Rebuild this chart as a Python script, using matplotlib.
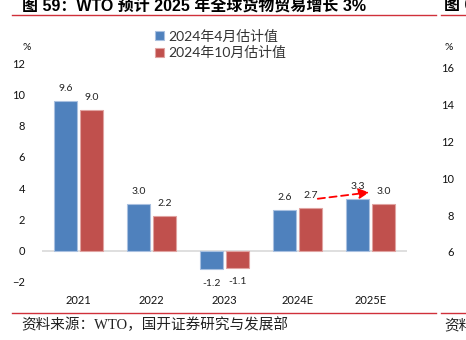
import matplotlib
matplotlib.use("Agg")
import matplotlib.pyplot as plt
import numpy as np

plt.rcParams['font.family'] = ['Lato', 'Noto Sans CJK SC', 'DejaVu Sans']

# -----------------------
# Data
# -----------------------
years = ["2021", "2022", "2023", "2024E", "2025E"]
apr_est = [9.6, 3.0, -1.2, 2.6, 3.3]
oct_est = [9.0, 2.2, -1.1, 2.7, 3.0]
series_names = ["2024年4月估计值", "2024年10月估计值"]
y_ticks = [-2, 0, 2, 4, 6, 8, 10, 12]
right_ticks = [6, 8, 10, 12, 14, 16]

BLUE = "#4F81BD"
RED = "#C0504D"
W, H = 466, 340

fig = plt.figure(figsize=(W / 100, H / 100), dpi=100)
fig.patch.set_facecolor("white")

def fx(px):
    return px / W

def fy(py):
    return 1 - py / H

# -----------------------
# Main bar chart
# -----------------------
ax = fig.add_axes([fx(42), fy(282), fx(407 - 42), (282 - 63) / H])
x = np.arange(len(years))
bw = 0.31
off = 0.178
b1 = ax.bar(x - off, apr_est, bw, color=BLUE, edgecolor="#A9C0E0", linewidth=0.8,
            label=series_names[0])
b2 = ax.bar(x + off, oct_est, bw, color=RED, edgecolor="#E0A3A1", linewidth=0.8,
            label=series_names[1])

for bars, vals in ((b1, apr_est), (b2, oct_est)):
    for rect, v in zip(bars, vals):
        cx = rect.get_x() + rect.get_width() / 2
        dy = 9 if v >= 0 else -10
        ax.annotate(f"{v:.1f}", (cx, v), xytext=(0, dy), textcoords="offset points",
                    ha="center", va="center", fontsize=7.5, color="#222222")

ax.axhline(0, color="#D9D9D9", linewidth=1.2, zorder=0)
ax.set_xlim(-0.5, len(years) - 0.5)
ax.set_ylim(-2, 12)
ax.set_yticks(y_ticks)
ax.set_xticks(x)
ax.set_xticklabels(years)
ax.tick_params(axis="y", length=0, pad=12, labelsize=8, labelcolor="#111111")
ax.tick_params(axis="x", length=0, pad=9, labelsize=8, labelcolor="#111111")
for s in ax.spines.values():
    s.set_visible(False)
ax.patch.set_alpha(0)

# red dashed arrow 2024E -> 2025E
ax.annotate("", xy=(x[4] + 0.02, apr_est[3] + 1.15), xytext=(x[3] + 0.24, oct_est[3] + 0.6),
            arrowprops=dict(arrowstyle="-|>,head_length=0.6,head_width=0.3",
                            color="#FF0000", linestyle=(0, (4, 2.5)), linewidth=1.3))

fig.text(fx(27), fy(47), "%", ha="center", va="center", fontsize=7.5, color="#111111")

# legend
leg = fig.legend(handles=[b1, b2], labels=series_names, loc="upper left",
                 bbox_to_anchor=(fx(147), fy(21)), frameon=False,
                 handlelength=0.6, handleheight=0.6, handletextpad=0.3,
                 labelspacing=0.25, borderpad=0.1,
                 prop={"family": ["Lato", "Noto Sans CJK SC"], "size": 10})
for t in leg.get_texts():
    t.set_color("#333333")

# -----------------------
# Title, rules and source
# -----------------------
title_font = ["Liberation Sans", "Noto Sans CJK SC"]
fig.text(fx(22), fy(5.5), "图 59：WTO 预计 2025 年全球货物贸易增长 3%", ha="left", va="center",
         fontsize=11.5, fontweight="bold", family=title_font)
fig.text(fx(444), fy(5.5), "图 6", ha="left", va="center",
         fontsize=11.5, fontweight="bold", family=title_font)
for y_rule in (15, 313):
    fig.add_artist(plt.Line2D([fx(12), fx(436)], [fy(y_rule), fy(y_rule)], color="#D0303A", linewidth=1))
    fig.add_artist(plt.Line2D([fx(441), 1], [fy(y_rule), fy(y_rule)], color="#D0303A", linewidth=1))
fig.text(fx(21), fy(325), "资料来源：WTO，国开证券研究与发展部", ha="left", va="center",
         fontsize=10.5, color="#222222", family=["Liberation Serif", "Noto Sans CJK SC"])
fig.text(fx(444), fy(325), "资料", ha="left", va="center",
         fontsize=10.5, color="#222222", family=["Noto Sans CJK SC"])

# -----------------------
# Neighbouring chart's axis (cut off at the edge)
# -----------------------
ax2 = fig.add_axes([fx(462), fy(252), 0.001, (252 - 68) / H])
ax2.set_ylim(6, 16)
ax2.set_yticks(right_ticks)
ax2.set_xticks([])
ax2.tick_params(axis="y", length=0, pad=6, labelsize=8, labelcolor="#111111")
for s in ax2.spines.values():
    s.set_visible(False)
ax2.patch.set_alpha(0)
fig.text(fx(449), fy(47), "%", ha="center", va="center", fontsize=7.5, color="#111111")

fig.savefig("out.png", dpi=100)
